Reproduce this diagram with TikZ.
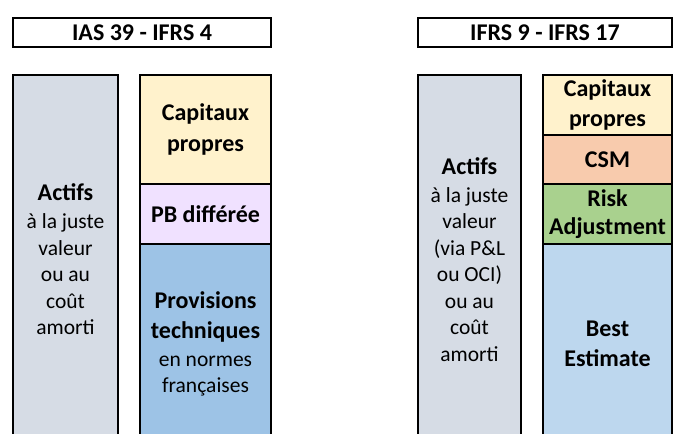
\documentclass[tikz,border=0pt]{standalone}
\usepackage{fontspec}
\setmainfont{Carlito}
\usetikzlibrary{positioning}

\definecolor{actif}{HTML}{D6DCE5}
\definecolor{capitaux}{HTML}{FFF2CC}
\definecolor{pbdiff}{HTML}{F0E1FF}
\definecolor{provision}{HTML}{9DC3E6}
\definecolor{csm}{HTML}{F8CBAD}
\definecolor{risque}{HTML}{A9D18E}
\definecolor{bestest}{HTML}{BDD7EE}

\tikzset{
  bloc/.style={draw,line width=2pt,inner sep=0pt,outer sep=0pt,anchor=north west,
    align=center,font=\fontsize{21.5}{26.5}\selectfont},
  titre/.style={bloc,fill=white,minimum height=29pt,font=\fontsize{24}{27}\selectfont\bfseries},
}
\newcommand{\gras}[1]{{\fontsize{24}{27}\selectfont\bfseries #1}}

\begin{document}
\begin{tikzpicture}[x=1pt,y=-1pt]
  \path[use as bounding box,clip] (0,0) rectangle (673,434);

  % IAS 39 - IFRS 4
  \node[titre,minimum width=258pt] (titre1) at (13,18) {IAS 39 - IFRS 4};
  \node[bloc,fill=actif,minimum width=105pt,minimum height=369pt] (actif1) at (13,75)
    {\gras{Actifs}\\[1.5pt] à la juste\\ valeur\\ ou au\\ coût\\ amorti};
  \node[bloc,fill=capitaux,minimum width=131pt,minimum height=109pt] (cap1) at (140,75)
    {\gras{Capitaux}\\[4pt] \gras{propres}};
  \node[bloc,fill=pbdiff,minimum width=131pt,minimum height=60pt,below=0pt of cap1] (pb)
    {\gras{PB différée}};
  \node[bloc,fill=provision,minimum width=131pt,minimum height=200pt,below=0pt of pb] (prov)
    {\gras{Provisions}\\[3pt] \gras{techniques}\\[1.5pt] en normes\\ françaises};

  % IFRS 9 - IFRS 17
  \node[titre,minimum width=254pt] (titre2) at (418,18) {IFRS 9 - IFRS 17};
  \node[bloc,fill=actif,minimum width=103pt,minimum height=369pt] (actif2) at (418,75)
    {\gras{Actifs}\\[1.5pt] à la juste\\ valeur\\ (via P\&L\\ ou OCI)\\ ou au\\ coût\\ amorti};
  \node[bloc,fill=capitaux,minimum width=129pt,minimum height=60pt] (cap2) at (543,75)
    {\gras{Capitaux}\\[4pt] \gras{propres}};
  \node[bloc,fill=csm,minimum width=129pt,minimum height=49pt,below=0pt of cap2] (csm)
    {\gras{CSM}};
  \node[bloc,fill=risque,minimum width=129pt,minimum height=60pt,below=0pt of csm] (ra)
    {\gras{Risk}\\[1.5pt] \gras{Adjustment}};
  \node[bloc,fill=bestest,minimum width=129pt,minimum height=200pt,below=0pt of ra] (be)
    {\gras{Best}\\[3pt] \gras{Estimate}};
\end{tikzpicture}
\end{document}
